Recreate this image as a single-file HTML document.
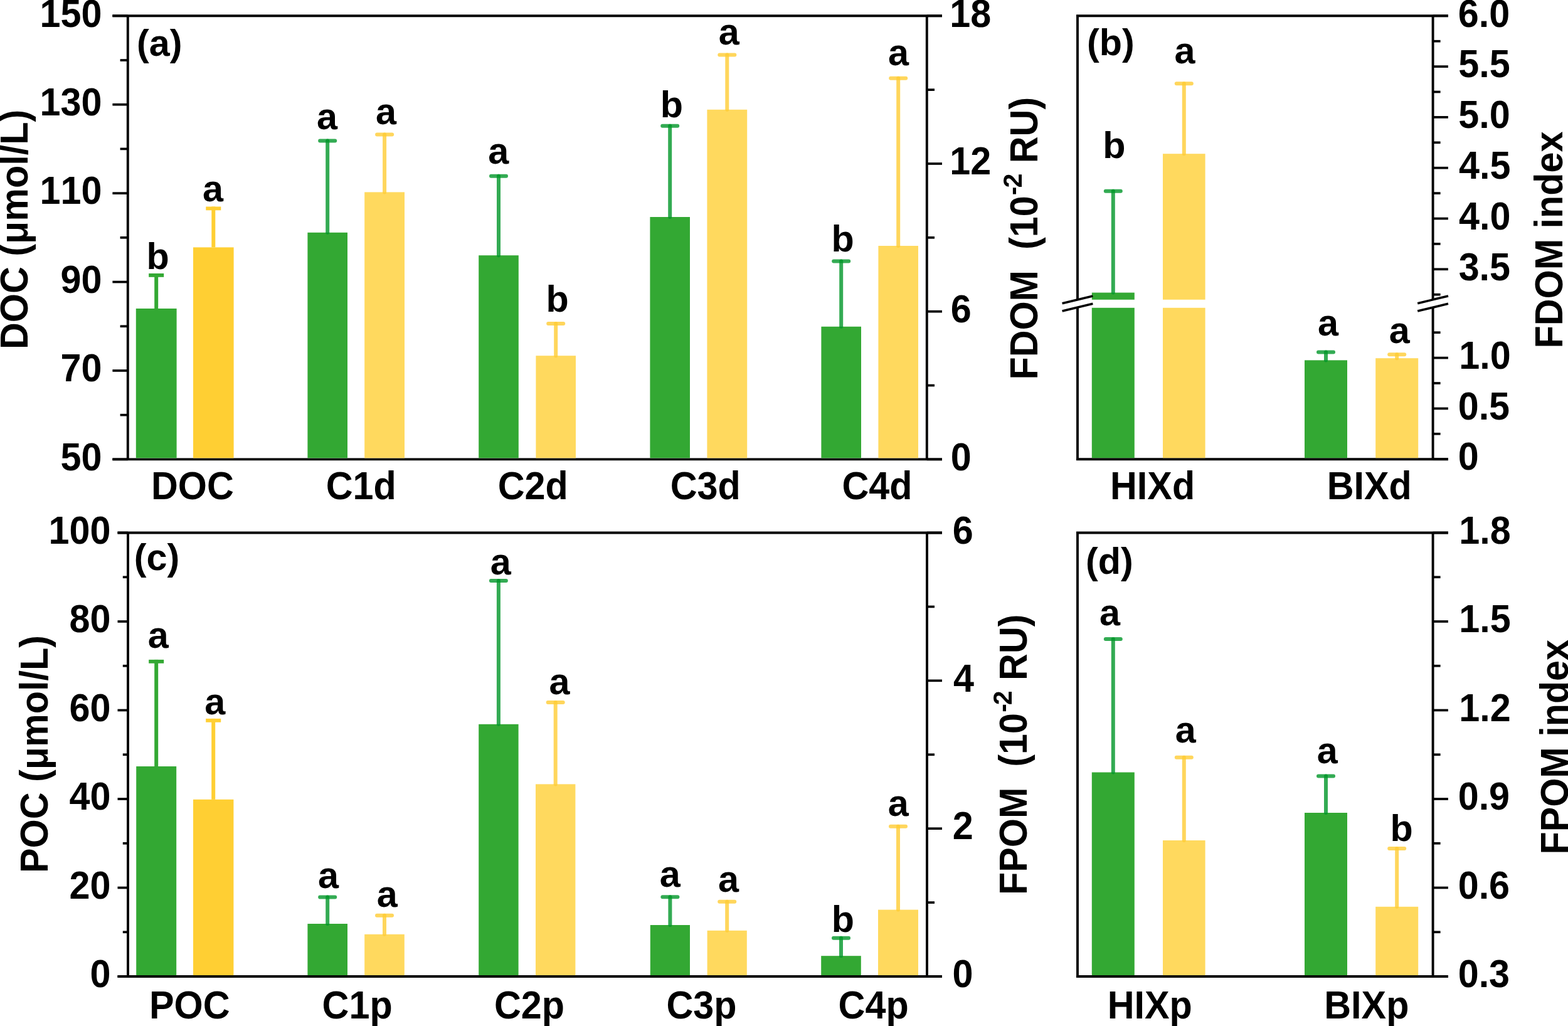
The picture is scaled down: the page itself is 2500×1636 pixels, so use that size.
<!DOCTYPE html>
<html><head><meta charset="utf-8"><title>Figure</title>
<style>html,body{margin:0;padding:0;background:#fff;}svg{display:block;}text{font-kerning:none;font-feature-settings:"kern" 0;}</style></head>
<body>
<svg width="2500" height="1636" viewBox="0 0 2500 1636" font-family="Liberation Sans, Arial, sans-serif" font-weight="bold" fill="#000">
<rect x="0" y="0" width="2500" height="1636" fill="#fff"/>
<line x1="179.40" y1="25.30" x2="1502.00" y2="25.30" stroke="#000" stroke-width="3.9" />
<line x1="179.40" y1="732.40" x2="1502.00" y2="732.40" stroke="#000" stroke-width="3.9" />
<line x1="203.80" y1="25.30" x2="203.80" y2="732.40" stroke="#000" stroke-width="3.9" />
<line x1="1477.80" y1="25.30" x2="1477.80" y2="732.40" stroke="#000" stroke-width="3.9" />
<line x1="179.40" y1="732.40" x2="203.80" y2="732.40" stroke="#000" stroke-width="3.7" />
<text transform="translate(96.47,749.60) scale(1,1.05)" font-size="59.3">50</text>
<line x1="191.60" y1="661.69" x2="203.80" y2="661.69" stroke="#000" stroke-width="3.7" />
<line x1="179.40" y1="590.98" x2="203.80" y2="590.98" stroke="#000" stroke-width="3.7" />
<text transform="translate(96.47,608.18) scale(1,1.05)" font-size="59.3">70</text>
<line x1="191.60" y1="520.27" x2="203.80" y2="520.27" stroke="#000" stroke-width="3.7" />
<line x1="179.40" y1="449.56" x2="203.80" y2="449.56" stroke="#000" stroke-width="3.7" />
<text transform="translate(96.47,466.76) scale(1,1.05)" font-size="59.3">90</text>
<line x1="191.60" y1="378.85" x2="203.80" y2="378.85" stroke="#000" stroke-width="3.7" />
<line x1="179.40" y1="308.14" x2="203.80" y2="308.14" stroke="#000" stroke-width="3.7" />
<text transform="translate(63.49,325.34) scale(1,1.05)" font-size="59.3">110</text>
<line x1="191.60" y1="237.43" x2="203.80" y2="237.43" stroke="#000" stroke-width="3.7" />
<line x1="179.40" y1="166.72" x2="203.80" y2="166.72" stroke="#000" stroke-width="3.7" />
<text transform="translate(63.49,183.92) scale(1,1.05)" font-size="59.3">130</text>
<line x1="191.60" y1="96.01" x2="203.80" y2="96.01" stroke="#000" stroke-width="3.7" />
<line x1="179.40" y1="25.30" x2="203.80" y2="25.30" stroke="#000" stroke-width="3.7" />
<text transform="translate(63.49,42.50) scale(1,1.05)" font-size="59.3">150</text>
<line x1="1477.80" y1="732.40" x2="1502.00" y2="732.40" stroke="#000" stroke-width="3.7" />
<text transform="translate(1515.65,749.60) scale(1,1.05)" font-size="59.3">0</text>
<line x1="1477.80" y1="614.55" x2="1490.00" y2="614.55" stroke="#000" stroke-width="3.7" />
<line x1="1477.80" y1="496.70" x2="1502.00" y2="496.70" stroke="#000" stroke-width="3.7" />
<text transform="translate(1515.83,513.90) scale(1,1.05)" font-size="59.3">6</text>
<line x1="1477.80" y1="378.85" x2="1490.00" y2="378.85" stroke="#000" stroke-width="3.7" />
<line x1="1477.80" y1="261.00" x2="1502.00" y2="261.00" stroke="#000" stroke-width="3.7" />
<text transform="translate(1514.26,278.20) scale(1,1.05)" font-size="59.3">12</text>
<line x1="1477.80" y1="143.15" x2="1490.00" y2="143.15" stroke="#000" stroke-width="3.7" />
<line x1="1477.80" y1="25.30" x2="1502.00" y2="25.30" stroke="#000" stroke-width="3.7" />
<text transform="translate(1514.26,42.50) scale(1,1.05)" font-size="59.3">18</text>
<line x1="187.50" y1="849.50" x2="1502.00" y2="849.50" stroke="#000" stroke-width="3.9" />
<line x1="187.50" y1="1557.00" x2="1502.00" y2="1557.00" stroke="#000" stroke-width="3.9" />
<line x1="204.00" y1="849.50" x2="204.00" y2="1557.00" stroke="#000" stroke-width="3.9" />
<line x1="1478.00" y1="849.50" x2="1478.00" y2="1557.00" stroke="#000" stroke-width="3.9" />
<line x1="187.50" y1="1557.00" x2="204.00" y2="1557.00" stroke="#000" stroke-width="3.7" />
<text transform="translate(143.45,1574.20) scale(1,1.05)" font-size="59.3">0</text>
<line x1="195.80" y1="1486.25" x2="204.00" y2="1486.25" stroke="#000" stroke-width="3.7" />
<line x1="187.50" y1="1415.50" x2="204.00" y2="1415.50" stroke="#000" stroke-width="3.7" />
<text transform="translate(110.47,1432.70) scale(1,1.05)" font-size="59.3">20</text>
<line x1="195.80" y1="1344.75" x2="204.00" y2="1344.75" stroke="#000" stroke-width="3.7" />
<line x1="187.50" y1="1274.00" x2="204.00" y2="1274.00" stroke="#000" stroke-width="3.7" />
<text transform="translate(110.47,1291.20) scale(1,1.05)" font-size="59.3">40</text>
<line x1="195.80" y1="1203.25" x2="204.00" y2="1203.25" stroke="#000" stroke-width="3.7" />
<line x1="187.50" y1="1132.50" x2="204.00" y2="1132.50" stroke="#000" stroke-width="3.7" />
<text transform="translate(110.47,1149.70) scale(1,1.05)" font-size="59.3">60</text>
<line x1="195.80" y1="1061.75" x2="204.00" y2="1061.75" stroke="#000" stroke-width="3.7" />
<line x1="187.50" y1="991.00" x2="204.00" y2="991.00" stroke="#000" stroke-width="3.7" />
<text transform="translate(110.47,1008.20) scale(1,1.05)" font-size="59.3">80</text>
<line x1="195.80" y1="920.25" x2="204.00" y2="920.25" stroke="#000" stroke-width="3.7" />
<line x1="187.50" y1="849.50" x2="204.00" y2="849.50" stroke="#000" stroke-width="3.7" />
<text transform="translate(77.49,866.70) scale(1,1.05)" font-size="59.3">100</text>
<line x1="1478.00" y1="1557.00" x2="1502.00" y2="1557.00" stroke="#000" stroke-width="3.7" />
<text transform="translate(1518.45,1574.20) scale(1,1.05)" font-size="59.3">0</text>
<line x1="1478.00" y1="1439.08" x2="1490.00" y2="1439.08" stroke="#000" stroke-width="3.7" />
<line x1="1478.00" y1="1321.17" x2="1502.00" y2="1321.17" stroke="#000" stroke-width="3.7" />
<text transform="translate(1518.74,1338.37) scale(1,1.05)" font-size="59.3">2</text>
<line x1="1478.00" y1="1203.25" x2="1490.00" y2="1203.25" stroke="#000" stroke-width="3.7" />
<line x1="1478.00" y1="1085.33" x2="1502.00" y2="1085.33" stroke="#000" stroke-width="3.7" />
<text transform="translate(1519.90,1102.53) scale(1,1.05)" font-size="59.3">4</text>
<line x1="1478.00" y1="967.42" x2="1490.00" y2="967.42" stroke="#000" stroke-width="3.7" />
<line x1="1478.00" y1="849.50" x2="1502.00" y2="849.50" stroke="#000" stroke-width="3.7" />
<text transform="translate(1518.63,866.70) scale(1,1.05)" font-size="59.3">6</text>
<line x1="1716.00" y1="25.30" x2="2308.90" y2="25.30" stroke="#000" stroke-width="3.9" />
<line x1="1716.00" y1="732.20" x2="2308.90" y2="732.20" stroke="#000" stroke-width="3.9" />
<line x1="1718.00" y1="25.30" x2="1718.00" y2="477.80" stroke="#000" stroke-width="3.9" />
<line x1="1718.00" y1="490.20" x2="1718.00" y2="732.20" stroke="#000" stroke-width="3.9" />
<line x1="2284.60" y1="25.30" x2="2284.60" y2="477.80" stroke="#000" stroke-width="3.9" />
<line x1="2284.60" y1="490.20" x2="2284.60" y2="732.20" stroke="#000" stroke-width="3.9" />
<line x1="2284.60" y1="25.30" x2="2308.90" y2="25.30" stroke="#000" stroke-width="3.7" />
<text transform="translate(2324.83,42.50) scale(1,1.05)" font-size="59.3">6.0</text>
<line x1="2284.60" y1="65.70" x2="2296.60" y2="65.70" stroke="#000" stroke-width="3.7" />
<line x1="2284.60" y1="106.10" x2="2308.90" y2="106.10" stroke="#000" stroke-width="3.7" />
<text transform="translate(2325.18,123.30) scale(1,1.05)" font-size="59.3">5.5</text>
<line x1="2284.60" y1="146.50" x2="2296.60" y2="146.50" stroke="#000" stroke-width="3.7" />
<line x1="2284.60" y1="186.90" x2="2308.90" y2="186.90" stroke="#000" stroke-width="3.7" />
<text transform="translate(2325.18,204.10) scale(1,1.05)" font-size="59.3">5.0</text>
<line x1="2284.60" y1="227.30" x2="2296.60" y2="227.30" stroke="#000" stroke-width="3.7" />
<line x1="2284.60" y1="267.70" x2="2308.90" y2="267.70" stroke="#000" stroke-width="3.7" />
<text transform="translate(2326.10,284.90) scale(1,1.05)" font-size="59.3">4.5</text>
<line x1="2284.60" y1="308.10" x2="2296.60" y2="308.10" stroke="#000" stroke-width="3.7" />
<line x1="2284.60" y1="348.50" x2="2308.90" y2="348.50" stroke="#000" stroke-width="3.7" />
<text transform="translate(2326.10,365.70) scale(1,1.05)" font-size="59.3">4.0</text>
<line x1="2284.60" y1="388.90" x2="2296.60" y2="388.90" stroke="#000" stroke-width="3.7" />
<line x1="2284.60" y1="429.30" x2="2308.90" y2="429.30" stroke="#000" stroke-width="3.7" />
<text transform="translate(2325.64,446.50) scale(1,1.05)" font-size="59.3">3.5</text>
<line x1="2284.60" y1="469.70" x2="2296.60" y2="469.70" stroke="#000" stroke-width="3.7" />
<line x1="2284.60" y1="732.20" x2="2308.90" y2="732.20" stroke="#000" stroke-width="3.7" />
<text transform="translate(2324.65,749.40) scale(1,1.05)" font-size="59.3">0</text>
<line x1="2284.60" y1="691.80" x2="2296.60" y2="691.80" stroke="#000" stroke-width="3.7" />
<line x1="2284.60" y1="651.40" x2="2308.90" y2="651.40" stroke="#000" stroke-width="3.7" />
<text transform="translate(2324.65,668.60) scale(1,1.05)" font-size="59.3">0.5</text>
<line x1="2284.60" y1="611.00" x2="2296.60" y2="611.00" stroke="#000" stroke-width="3.7" />
<line x1="2284.60" y1="570.60" x2="2308.90" y2="570.60" stroke="#000" stroke-width="3.7" />
<text transform="translate(2326.26,587.80) scale(1,1.05)" font-size="59.3">1.0</text>
<line x1="2284.60" y1="530.20" x2="2296.60" y2="530.20" stroke="#000" stroke-width="3.7" />
<line x1="1716.00" y1="849.50" x2="2308.90" y2="849.50" stroke="#000" stroke-width="3.9" />
<line x1="1716.00" y1="1557.00" x2="2308.90" y2="1557.00" stroke="#000" stroke-width="3.9" />
<line x1="1718.00" y1="849.50" x2="1718.00" y2="1557.00" stroke="#000" stroke-width="3.9" />
<line x1="2284.60" y1="849.50" x2="2284.60" y2="1557.00" stroke="#000" stroke-width="3.9" />
<line x1="2284.60" y1="1557.00" x2="2308.90" y2="1557.00" stroke="#000" stroke-width="3.7" />
<text transform="translate(2324.65,1574.20) scale(1,1.05)" font-size="59.3">0.3</text>
<line x1="2284.60" y1="1486.25" x2="2296.60" y2="1486.25" stroke="#000" stroke-width="3.7" />
<line x1="2284.60" y1="1415.50" x2="2308.90" y2="1415.50" stroke="#000" stroke-width="3.7" />
<text transform="translate(2324.65,1432.70) scale(1,1.05)" font-size="59.3">0.6</text>
<line x1="2284.60" y1="1344.75" x2="2296.60" y2="1344.75" stroke="#000" stroke-width="3.7" />
<line x1="2284.60" y1="1274.00" x2="2308.90" y2="1274.00" stroke="#000" stroke-width="3.7" />
<text transform="translate(2324.65,1291.20) scale(1,1.05)" font-size="59.3">0.9</text>
<line x1="2284.60" y1="1203.25" x2="2296.60" y2="1203.25" stroke="#000" stroke-width="3.7" />
<line x1="2284.60" y1="1132.50" x2="2308.90" y2="1132.50" stroke="#000" stroke-width="3.7" />
<text transform="translate(2326.26,1149.70) scale(1,1.05)" font-size="59.3">1.2</text>
<line x1="2284.60" y1="1061.75" x2="2296.60" y2="1061.75" stroke="#000" stroke-width="3.7" />
<line x1="2284.60" y1="991.00" x2="2308.90" y2="991.00" stroke="#000" stroke-width="3.7" />
<text transform="translate(2326.26,1008.20) scale(1,1.05)" font-size="59.3">1.5</text>
<line x1="2284.60" y1="920.25" x2="2296.60" y2="920.25" stroke="#000" stroke-width="3.7" />
<line x1="2284.60" y1="849.50" x2="2308.90" y2="849.50" stroke="#000" stroke-width="3.7" />
<text transform="translate(2326.26,866.70) scale(1,1.05)" font-size="59.3">1.8</text>
<rect x="216.80" y="492.00" width="64.80" height="238.45" fill="#33a833"/>
<rect x="308.00" y="394.40" width="64.60" height="336.05" fill="#ffcf33"/>
<rect x="490.40" y="370.80" width="63.60" height="359.65" fill="#33a833"/>
<rect x="581.20" y="306.40" width="63.80" height="424.05" fill="#ffd95e"/>
<rect x="763.20" y="407.20" width="63.60" height="323.25" fill="#33a833"/>
<rect x="854.40" y="567.20" width="63.60" height="163.25" fill="#ffd95e"/>
<rect x="1036.40" y="346.00" width="63.60" height="384.45" fill="#33a833"/>
<rect x="1127.40" y="174.80" width="63.80" height="555.65" fill="#ffd95e"/>
<rect x="1309.40" y="520.80" width="63.60" height="209.65" fill="#33a833"/>
<rect x="1400.40" y="392.00" width="63.60" height="338.45" fill="#ffd95e"/>
<rect x="246.20" y="436.00" width="6.00" height="56.00" fill="#33a833"/>
<rect x="237.20" y="436.00" width="24.00" height="5.80" fill="#33a833"/>
<text x="233.55" y="429.40" font-size="59.3">b</text>
<rect x="337.30" y="329.50" width="6.00" height="64.90" fill="#ffcf33"/>
<rect x="328.30" y="329.50" width="24.00" height="5.80" fill="#ffcf33"/>
<text x="323.05" y="321.40" font-size="59.3">a</text>
<g stroke="#009628" stroke-opacity="0.8" stroke-width="6" stroke-linecap="round"><line x1="522.20" y1="370.80" x2="522.20" y2="224.40"/><line x1="510.20" y1="224.40" x2="534.20" y2="224.40"/></g>
<text x="505.05" y="205.90" font-size="59.3">a</text>
<g stroke="#ffcc33" stroke-opacity="0.8" stroke-width="6" stroke-linecap="round"><line x1="613.10" y1="306.40" x2="613.10" y2="214.50"/><line x1="601.10" y1="214.50" x2="625.10" y2="214.50"/></g>
<text x="599.05" y="198.40" font-size="59.3">a</text>
<g stroke="#009628" stroke-opacity="0.8" stroke-width="6" stroke-linecap="round"><line x1="795.00" y1="407.20" x2="795.00" y2="280.80"/><line x1="783.00" y1="280.80" x2="807.00" y2="280.80"/></g>
<text x="778.25" y="261.40" font-size="59.3">a</text>
<g stroke="#ffcc33" stroke-opacity="0.8" stroke-width="6" stroke-linecap="round"><line x1="886.20" y1="567.20" x2="886.20" y2="516.00"/><line x1="874.20" y1="516.00" x2="898.20" y2="516.00"/></g>
<text x="870.55" y="496.60" font-size="59.3">b</text>
<g stroke="#009628" stroke-opacity="0.8" stroke-width="6" stroke-linecap="round"><line x1="1068.20" y1="346.00" x2="1068.20" y2="200.80"/><line x1="1056.20" y1="200.80" x2="1080.20" y2="200.80"/></g>
<text x="1052.75" y="187.40" font-size="59.3">b</text>
<g stroke="#ffcc33" stroke-opacity="0.8" stroke-width="6" stroke-linecap="round"><line x1="1159.30" y1="174.80" x2="1159.30" y2="87.60"/><line x1="1147.30" y1="87.60" x2="1171.30" y2="87.60"/></g>
<text x="1145.85" y="70.60" font-size="59.3">a</text>
<g stroke="#009628" stroke-opacity="0.8" stroke-width="6" stroke-linecap="round"><line x1="1341.20" y1="520.80" x2="1341.20" y2="416.40"/><line x1="1329.20" y1="416.40" x2="1353.20" y2="416.40"/></g>
<text x="1325.55" y="401.40" font-size="59.3">b</text>
<g stroke="#ffcc33" stroke-opacity="0.8" stroke-width="6" stroke-linecap="round"><line x1="1432.20" y1="392.00" x2="1432.20" y2="124.80"/><line x1="1420.20" y1="124.80" x2="1444.20" y2="124.80"/></g>
<text x="1416.05" y="104.20" font-size="59.3">a</text>
<rect x="217.20" y="1222.00" width="64.00" height="333.05" fill="#33a833"/>
<rect x="308.00" y="1274.80" width="64.40" height="280.25" fill="#ffcf33"/>
<rect x="490.40" y="1473.00" width="63.60" height="82.05" fill="#33a833"/>
<rect x="581.20" y="1489.80" width="63.60" height="65.25" fill="#ffd95e"/>
<rect x="763.20" y="1154.80" width="63.40" height="400.25" fill="#33a833"/>
<rect x="854.00" y="1250.40" width="63.40" height="304.65" fill="#ffd95e"/>
<rect x="1036.80" y="1475.00" width="63.20" height="80.05" fill="#33a833"/>
<rect x="1127.60" y="1483.80" width="63.20" height="71.25" fill="#ffd95e"/>
<rect x="1309.20" y="1524.20" width="63.60" height="30.85" fill="#33a833"/>
<rect x="1400.00" y="1450.60" width="64.00" height="104.45" fill="#ffd95e"/>
<rect x="246.20" y="1051.90" width="6.00" height="170.10" fill="#33a833"/>
<rect x="237.20" y="1051.90" width="24.00" height="5.80" fill="#33a833"/>
<text x="235.85" y="1033.40" font-size="59.3">a</text>
<rect x="337.20" y="1145.90" width="6.00" height="128.90" fill="#ffcf33"/>
<rect x="328.20" y="1145.90" width="24.00" height="5.80" fill="#ffcf33"/>
<text x="326.25" y="1139.40" font-size="59.3">a</text>
<g stroke="#009628" stroke-opacity="0.8" stroke-width="6" stroke-linecap="round"><line x1="522.20" y1="1473.00" x2="522.20" y2="1430.60"/><line x1="510.20" y1="1430.60" x2="534.20" y2="1430.60"/></g>
<text x="507.05" y="1416.40" font-size="59.3">a</text>
<g stroke="#ffcc33" stroke-opacity="0.8" stroke-width="6" stroke-linecap="round"><line x1="613.00" y1="1489.80" x2="613.00" y2="1459.80"/><line x1="601.00" y1="1459.80" x2="625.00" y2="1459.80"/></g>
<text x="600.65" y="1446.40" font-size="59.3">a</text>
<g stroke="#009628" stroke-opacity="0.8" stroke-width="6" stroke-linecap="round"><line x1="794.90" y1="1154.80" x2="794.90" y2="926.00"/><line x1="782.90" y1="926.00" x2="806.90" y2="926.00"/></g>
<text x="781.85" y="916.20" font-size="59.3">a</text>
<g stroke="#ffcc33" stroke-opacity="0.8" stroke-width="6" stroke-linecap="round"><line x1="885.70" y1="1250.40" x2="885.70" y2="1120.00"/><line x1="873.70" y1="1120.00" x2="897.70" y2="1120.00"/></g>
<text x="875.45" y="1107.40" font-size="59.3">a</text>
<g stroke="#009628" stroke-opacity="0.8" stroke-width="6" stroke-linecap="round"><line x1="1068.40" y1="1475.00" x2="1068.40" y2="1430.20"/><line x1="1056.40" y1="1430.20" x2="1080.40" y2="1430.20"/></g>
<text x="1051.85" y="1414.40" font-size="59.3">a</text>
<g stroke="#ffcc33" stroke-opacity="0.8" stroke-width="6" stroke-linecap="round"><line x1="1159.20" y1="1483.80" x2="1159.20" y2="1437.80"/><line x1="1147.20" y1="1437.80" x2="1171.20" y2="1437.80"/></g>
<text x="1145.05" y="1422.40" font-size="59.3">a</text>
<g stroke="#009628" stroke-opacity="0.8" stroke-width="6" stroke-linecap="round"><line x1="1341.00" y1="1524.20" x2="1341.00" y2="1495.80"/><line x1="1329.00" y1="1495.80" x2="1353.00" y2="1495.80"/></g>
<text x="1325.75" y="1485.60" font-size="59.3">b</text>
<g stroke="#ffcc33" stroke-opacity="0.8" stroke-width="6" stroke-linecap="round"><line x1="1432.00" y1="1450.60" x2="1432.00" y2="1317.80"/><line x1="1420.00" y1="1317.80" x2="1444.00" y2="1317.80"/></g>
<text x="1415.85" y="1301.20" font-size="59.3">a</text>
<rect x="1740.80" y="466.60" width="68.00" height="11.20" fill="#33a833"/>
<rect x="1740.80" y="490.80" width="68.00" height="239.45" fill="#33a833"/>
<rect x="1854.00" y="245.20" width="67.60" height="232.60" fill="#ffd95e"/>
<rect x="1854.00" y="490.80" width="67.60" height="239.45" fill="#ffd95e"/>
<rect x="2080.00" y="574.40" width="68.00" height="155.85" fill="#33a833"/>
<rect x="2193.20" y="571.20" width="68.00" height="159.05" fill="#ffd95e"/>
<g stroke="#009628" stroke-opacity="0.8" stroke-width="6" stroke-linecap="round"><line x1="1774.80" y1="466.60" x2="1774.80" y2="304.80"/><line x1="1762.80" y1="304.80" x2="1786.80" y2="304.80"/></g>
<text x="1758.15" y="252.20" font-size="59.3">b</text>
<g stroke="#ffcc33" stroke-opacity="0.8" stroke-width="6" stroke-linecap="round"><line x1="1887.80" y1="245.20" x2="1887.80" y2="133.20"/><line x1="1875.80" y1="133.20" x2="1899.80" y2="133.20"/></g>
<text x="1872.45" y="101.40" font-size="59.3">a</text>
<g stroke="#009628" stroke-opacity="0.8" stroke-width="6" stroke-linecap="round"><line x1="2114.00" y1="574.40" x2="2114.00" y2="561.60"/><line x1="2102.00" y1="561.60" x2="2126.00" y2="561.60"/></g>
<text x="2101.05" y="535.40" font-size="59.3">a</text>
<g stroke="#ffcc33" stroke-opacity="0.8" stroke-width="6" stroke-linecap="round"><line x1="2227.20" y1="571.20" x2="2227.20" y2="565.20"/><line x1="2215.20" y1="565.20" x2="2239.20" y2="565.20"/></g>
<text x="2214.65" y="547.40" font-size="59.3">a</text>
<rect x="1740.80" y="1231.50" width="68.00" height="323.55" fill="#33a833"/>
<rect x="1854.00" y="1340.00" width="67.60" height="215.05" fill="#ffd95e"/>
<rect x="2080.00" y="1296.00" width="68.00" height="259.05" fill="#33a833"/>
<rect x="2193.20" y="1445.80" width="68.00" height="109.25" fill="#ffd95e"/>
<g stroke="#009628" stroke-opacity="0.8" stroke-width="6" stroke-linecap="round"><line x1="1774.80" y1="1231.50" x2="1774.80" y2="1018.90"/><line x1="1762.80" y1="1018.90" x2="1786.80" y2="1018.90"/></g>
<text x="1753.05" y="997.40" font-size="59.3">a</text>
<g stroke="#ffcc33" stroke-opacity="0.8" stroke-width="6" stroke-linecap="round"><line x1="1887.80" y1="1340.00" x2="1887.80" y2="1207.70"/><line x1="1875.80" y1="1207.70" x2="1899.80" y2="1207.70"/></g>
<text x="1873.85" y="1184.40" font-size="59.3">a</text>
<g stroke="#009628" stroke-opacity="0.8" stroke-width="6" stroke-linecap="round"><line x1="2114.00" y1="1296.00" x2="2114.00" y2="1237.50"/><line x1="2102.00" y1="1237.50" x2="2126.00" y2="1237.50"/></g>
<text x="2099.85" y="1217.40" font-size="59.3">a</text>
<g stroke="#ffcc33" stroke-opacity="0.8" stroke-width="6" stroke-linecap="round"><line x1="2227.20" y1="1445.80" x2="2227.20" y2="1353.10"/><line x1="2215.20" y1="1353.10" x2="2239.20" y2="1353.10"/></g>
<text x="2216.55" y="1341.40" font-size="59.3">b</text>
<line x1="1693.60" y1="483.65" x2="1742.40" y2="471.95" stroke="#000" stroke-width="3.6" />
<line x1="1693.60" y1="496.05" x2="1742.40" y2="484.35" stroke="#000" stroke-width="3.6" />
<line x1="2260.20" y1="483.65" x2="2309.00" y2="471.95" stroke="#000" stroke-width="3.6" />
<line x1="2260.20" y1="496.05" x2="2309.00" y2="484.35" stroke="#000" stroke-width="3.6" />
<text transform="translate(240.99,796.00) scale(1,1.05)" font-size="59.3">DOC</text>
<text transform="translate(519.72,796.00) scale(1,1.05)" font-size="59.3">C1d</text>
<text transform="translate(793.72,796.00) scale(1,1.05)" font-size="59.3">C2d</text>
<text transform="translate(1068.72,796.00) scale(1,1.05)" font-size="59.3">C3d</text>
<text transform="translate(1342.52,796.00) scale(1,1.05)" font-size="59.3">C4d</text>
<text transform="translate(1770.03,796.30) scale(1,1.05)" font-size="59.3">HIXd</text>
<text transform="translate(2115.63,796.30) scale(1,1.05)" font-size="59.3">BIXd</text>
<text transform="translate(237.98,1623.80) scale(1,1.05)" font-size="59.3">POC</text>
<text transform="translate(513.59,1623.80) scale(1,1.05)" font-size="59.3">C1p</text>
<text transform="translate(787.99,1623.80) scale(1,1.05)" font-size="59.3">C2p</text>
<text transform="translate(1062.39,1623.80) scale(1,1.05)" font-size="59.3">C3p</text>
<text transform="translate(1336.59,1623.80) scale(1,1.05)" font-size="59.3">C4p</text>
<text transform="translate(1765.69,1623.80) scale(1,1.05)" font-size="59.3">HIXp</text>
<text transform="translate(2111.29,1623.80) scale(1,1.05)" font-size="59.3">BIXp</text>
<text x="218.05" y="88.50" font-size="59.3">(a)</text>
<text x="1733.05" y="88.20" font-size="59.3">(b)</text>
<text x="213.85" y="909.40" font-size="59.3">(c)</text>
<text x="1731.05" y="914.70" font-size="59.3">(d)</text>
<text transform="translate(43.70,556.97) rotate(-90) scale(1,1.05)" font-size="59.3">DOC (μmol/L)</text>
<text transform="translate(76.00,1391.97) rotate(-90) scale(1,1.05)" font-size="59.3">POC (μmol/L)</text>
<text transform="translate(1653.50,605.57) rotate(-90) scale(1,1.05)" font-size="59.3">FDOM  (10<tspan dx="1.2" dy="-23.2" font-size="41">-</tspan><tspan dx="-2" font-size="41">2</tspan><tspan dy="23.2"> RU)</tspan></text>
<text transform="translate(1637.20,1426.97) rotate(-90) scale(1,1.05)" font-size="59.3">FPOM  (10<tspan dx="1.2" dy="-23.2" font-size="41">-</tspan><tspan dx="-2" font-size="41">2</tspan><tspan dy="23.2"> RU)</tspan></text>
<text transform="translate(2490.50,555.47) rotate(-90) scale(1,1.05)" font-size="59.3">FDOM index</text>
<text transform="translate(2499.50,1362.57) rotate(-90) scale(1,1.05)" font-size="59.3">FPOM index</text>
</svg>
</body></html>
